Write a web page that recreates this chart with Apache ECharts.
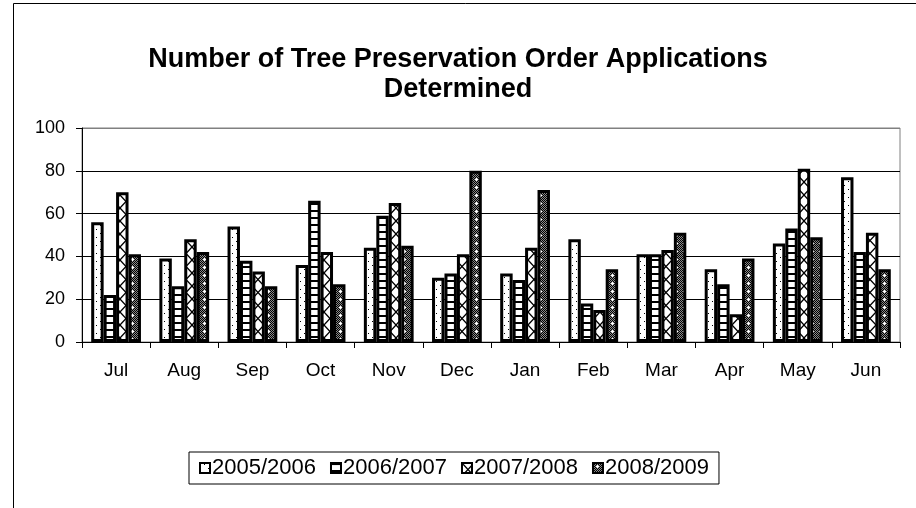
<!DOCTYPE html>
<html>
<head>
<meta charset="utf-8">
<title>Tree Preservation Order Applications</title>
<script src="https://cdn.jsdelivr.net/npm/echarts@6/dist/echarts.min.js"></script>
<style>
  html, body { margin: 0; padding: 0; background: #fff; }
  #chart { width: 916px; height: 508px; }
</style>
</head>
<body>
<div id="chart"></div>
<script>
// Monthly counts of applications determined, per financial year
const months = ['Jul', 'Aug', 'Sep', 'Oct', 'Nov', 'Dec', 'Jan', 'Feb', 'Mar', 'Apr', 'May', 'Jun'];
const years = ['2005/2006', '2006/2007', '2007/2008', '2008/2009'];
const y2005 = [56, 39, 54, 36, 44, 30, 32, 48, 41, 34, 46, 77];
const y2006 = [22, 26, 38, 66, 59, 32, 29, 18, 41, 27, 53, 42];
const y2007 = [70, 48, 33, 42, 65, 41, 44, 15, 43, 13, 81, 51];
const y2008 = [41, 42, 26, 27, 45, 80, 71, 34, 51, 39, 49, 34];
const yTicks = [0, 20, 40, 60, 80, 100];

const FONT = "'Liberation Sans', Arial, sans-serif";

// Small repeating tiles used as monochrome hatch fills
function tile(w, h, draw) {
  const c = document.createElement('canvas');
  c.width = w; c.height = h;
  const g = c.getContext('2d');
  g.fillStyle = '#fff';
  g.fillRect(0, 0, w, h);
  draw(g);
  return { image: c, repeat: 'repeat' };
}

const dotted = tile(8, 8, g => {
  g.fillStyle = '#000';
  g.fillRect(4, 1, 1, 1);
  g.fillRect(0, 5, 1, 1);
});

const striped = tile(8, 7, g => {
  g.fillStyle = '#000';
  g.fillRect(0, 0, 8, 2);
});

const crossed = tile(12, 13, g => {
  g.strokeStyle = '#000';
  g.lineWidth = 1.3;
  g.beginPath();
  g.moveTo(0, 0); g.lineTo(12, 13);
  g.moveTo(12, 0); g.lineTo(0, 13);
  g.stroke();
});

const shaded = tile(8, 8, g => {
  for (let y = 0; y < 8; y++) {
    for (let x = 0; x < 8; x++) {
      g.fillStyle = (x + y) % 2 === 0 ? '#000' : '#8a8a8a';
      g.fillRect(x, y, 1, 1);
    }
  }
  g.fillStyle = '#fff';
  g.fillRect(4, 2, 1, 1);
  g.fillRect(3, 3, 3, 1);
  g.fillRect(4, 4, 1, 1);
});

const fills = [dotted, striped, crossed, shaded];
const values = [y2005, y2006, y2007, y2008];

const series = years.map((name, i) => ({
  name: name,
  type: 'bar',
  data: values[i],
  barGap: '0%',
  barCategoryGap: '27%',
  itemStyle: {
    color: fills[i],
    borderColor: '#000',
    borderWidth: 3
  },
  emphasis: { disabled: true }
}));

const chart = echarts.init(document.getElementById('chart'), null, { renderer: 'canvas' });
chart.setOption({
  animation: false,
  backgroundColor: '#fff',
  title: {
    text: 'Number of Tree Preservation Order Applications\nDetermined',
    left: 'center',
    top: 40,
    textStyle: {
      fontFamily: FONT,
      fontSize: 27,
      fontWeight: 'bold',
      color: '#000',
      lineHeight: 30
    }
  },
  graphic: [{
    type: 'rect',
    left: 11,
    top: 1,
    silent: true,
    shape: { width: 1000, height: 1000 },
    style: { fill: 'none', stroke: '#000', lineWidth: 1 }
  }],
  grid: {
    left: 82,
    right: 16,
    top: 128,
    bottom: 166,
    show: true,
    borderColor: '#808080',
    borderWidth: 1,
    backgroundColor: 'transparent'
  },
  legend: {
    data: years,
    left: 189,
    top: 452,
    orient: 'horizontal',
    itemWidth: 10,
    itemHeight: 10,
    itemGap: 14,
    padding: [5, 10, 5, 10],
    borderColor: '#000',
    borderWidth: 1,
    icon: 'rect',
    selectedMode: false,
    textStyle: { fontFamily: FONT, fontSize: 22, color: '#000', padding: [0, 0, 0, -3] }
  },
  xAxis: {
    type: 'category',
    data: months,
    boundaryGap: true,
    axisLine: { show: true, lineStyle: { color: '#000', width: 1 } },
    axisTick: { show: true, length: 6, inside: false, lineStyle: { color: '#000' } },
    axisLabel: { fontFamily: FONT, fontSize: 19, color: '#000', margin: 19 },
    splitLine: { show: false }
  },
  yAxis: {
    type: 'value',
    min: yTicks[0],
    max: yTicks[yTicks.length - 1],
    interval: yTicks[1] - yTicks[0],
    axisLine: { show: true, lineStyle: { color: '#000', width: 1 } },
    axisTick: { show: true, length: 6, inside: false, lineStyle: { color: '#000' } },
    axisLabel: { fontFamily: FONT, fontSize: 18, color: '#000', margin: 17 },
    splitLine: {
      show: true,
      lineStyle: { color: ['#000', '#000', '#000', '#000', '#000', '#808080'], width: 1 }
    }
  },
  series: series
});
</script>
</body>
</html>
